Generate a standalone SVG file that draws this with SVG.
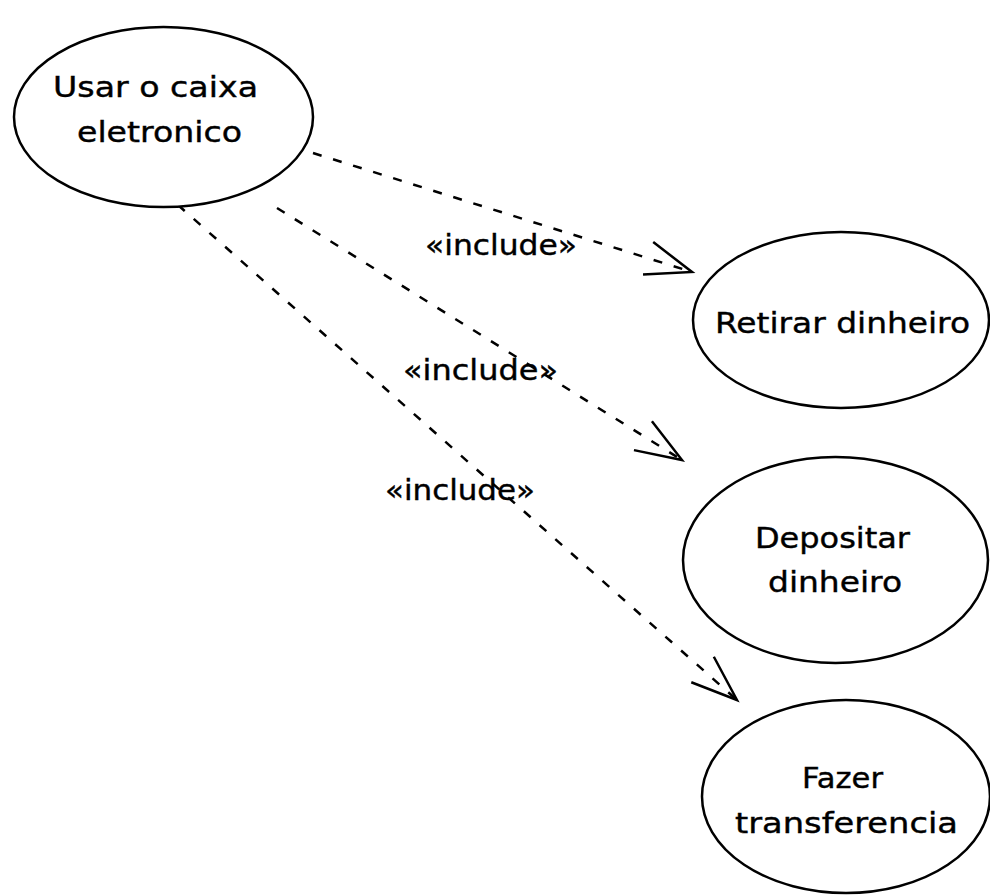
<svg xmlns="http://www.w3.org/2000/svg" width="990" height="896" viewBox="0 0 990 896">
<style>
.node ellipse{fill:#fff;stroke:#000;stroke-width:2.5}
text{font-family:"DejaVu Sans","Liberation Sans",sans-serif;font-size:28px;fill:#000;stroke:#000;stroke-width:0.4}
.conn line{stroke:#000;stroke-width:2.5;stroke-dasharray:9 12;fill:none}
</style>
<defs>
<marker id="open" markerUnits="userSpaceOnUse" orient="auto" markerWidth="60" markerHeight="50" refX="0" refY="0" viewBox="-50 -25 60 50" overflow="visible">
<path d="M -46 -17 L 0 0 L -46 17" fill="none" stroke="#000" stroke-width="2.5"/>
</marker>
</defs>
<rect width="990" height="896" fill="#fff"/>
<g class="conn" id="connectors">
<line x1="313" y1="153" x2="692" y2="272" marker-end="url(#open)"/>
<line x1="277" y1="208" x2="682" y2="460" marker-end="url(#open)"/>
<line x1="178" y1="205" x2="737" y2="700" marker-end="url(#open)"/>
<text x="425" y="255" textLength="152" lengthAdjust="spacingAndGlyphs">«include»</text>
<text x="403" y="380" textLength="155" lengthAdjust="spacingAndGlyphs">«include»</text>
<text x="385" y="500" textLength="150" lengthAdjust="spacingAndGlyphs">«include»</text>
</g>
<g class="node" id="usar">
<ellipse cx="163.5" cy="117" rx="149.5" ry="90"/>
<text x="53" y="97" textLength="205" lengthAdjust="spacingAndGlyphs">Usar o caixa</text>
<text x="77" y="142" textLength="165" lengthAdjust="spacingAndGlyphs">eletronico</text>
</g>
<g class="node" id="retirar">
<ellipse cx="841" cy="320" rx="148" ry="88"/>
<text x="715" y="333" textLength="255" lengthAdjust="spacingAndGlyphs">Retirar dinheiro</text>
</g>
<g class="node" id="depositar">
<ellipse cx="835.5" cy="560" rx="152.5" ry="103"/>
<text x="755" y="548" textLength="155" lengthAdjust="spacingAndGlyphs">Depositar</text>
<text x="768" y="592" textLength="134" lengthAdjust="spacingAndGlyphs">dinheiro</text>
</g>
<g class="node" id="fazer">
<ellipse cx="846" cy="796.5" rx="144" ry="96.5"/>
<text x="802" y="788" textLength="81" lengthAdjust="spacingAndGlyphs">Fazer</text>
<text x="735" y="833" textLength="223" lengthAdjust="spacingAndGlyphs">transferencia</text>
</g>
</svg>
